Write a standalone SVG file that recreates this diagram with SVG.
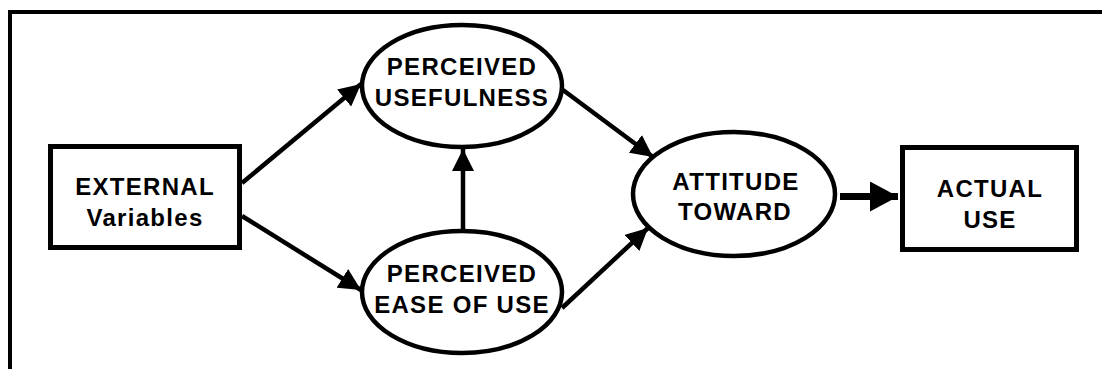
<svg xmlns="http://www.w3.org/2000/svg" width="1102" height="369" viewBox="0 0 1102 369">
  <style>
    .box { fill: #fff; stroke: #000; stroke-width: 5; }
    .oval { fill: #fff; stroke: #000; stroke-width: 4.5; }
    .lbl { font-family: "Liberation Sans", Arial, sans-serif; font-weight: bold; font-size: 24px; letter-spacing: 1.3px; fill: #000; text-anchor: middle; }
    .edge { fill: none; stroke: #000; stroke-width: 4.5; }
    .thick { fill: none; stroke: #000; stroke-width: 7; }
  </style>
  <defs>
    <marker id="head" markerUnits="userSpaceOnUse" markerWidth="24" markerHeight="22" refX="22" refY="11" orient="auto">
      <path d="M0,0 L22,11 L0,22 Z" fill="#000"/>
    </marker>
    <marker id="bighead" markerUnits="userSpaceOnUse" markerWidth="30" markerHeight="30" refX="28" refY="15" orient="auto">
      <path d="M0,0 L28,15 L0,30 Z" fill="#000"/>
    </marker>
  </defs>

  <rect width="1102" height="369" fill="#fff"/>

  <!-- outer frame: top and left rules only -->
  <path d="M10,369 V12 H1102" fill="none" stroke="#000" stroke-width="4"/>

  <g id="connectors">
    <line class="edge" x1="242" y1="183" x2="361" y2="84" marker-end="url(#head)"/>
    <line class="edge" x1="242" y1="216" x2="361" y2="290" marker-end="url(#head)"/>
    <line class="edge" x1="463" y1="231" x2="463" y2="149" marker-end="url(#head)"/>
    <line class="edge" x1="563" y1="90" x2="653" y2="157" marker-end="url(#head)"/>
    <line class="edge" x1="562" y1="308" x2="648" y2="228" marker-end="url(#head)"/>
    <line class="thick" x1="840" y1="196.5" x2="898" y2="196.5" marker-end="url(#bighead)"/>
  </g>

  <g id="external">
    <rect class="box" x="50.5" y="146.5" width="189" height="101"/>
    <text class="lbl" x="145" y="195">EXTERNAL</text>
    <text class="lbl" x="145" y="226">Variables</text>
  </g>

  <g id="usefulness">
    <ellipse class="oval" cx="462" cy="86" rx="100" ry="61"/>
    <text class="lbl" x="462" y="75">PERCEIVED</text>
    <text class="lbl" x="462" y="106">USEFULNESS</text>
  </g>

  <g id="ease">
    <ellipse class="oval" cx="462" cy="292" rx="100" ry="61"/>
    <text class="lbl" x="462" y="282">PERCEIVED</text>
    <text class="lbl" x="462" y="313">EASE OF USE</text>
  </g>

  <g id="attitude">
    <ellipse class="oval" cx="734" cy="194" rx="101" ry="62"/>
    <text class="lbl" x="736" y="190">ATTITUDE</text>
    <text class="lbl" x="735" y="220">TOWARD</text>
  </g>

  <g id="actual">
    <rect class="box" x="902.5" y="147.5" width="174" height="102"/>
    <text class="lbl" x="990" y="197">ACTUAL</text>
    <text class="lbl" x="990" y="228">USE</text>
  </g>
</svg>
